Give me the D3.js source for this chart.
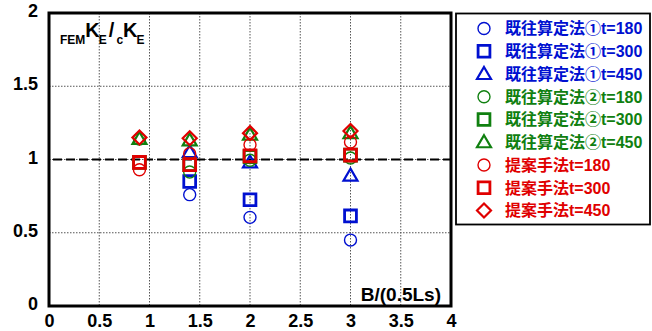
<!DOCTYPE html>
<html>
<head>
<meta charset="utf-8">
<script src="https://cdn.jsdelivr.net/npm/d3@7"></script>
<style>
  body { margin: 0; background: #fff; }
  svg { display: block; font-family: "Liberation Sans", Arial, sans-serif; font-weight: bold; }
</style>
</head>
<body>
<div id="chart"></div>
<script>
// データ
const xValues = [0.9, 1.4, 2, 3];
const xTicks = [0, 0.5, 1, 1.5, 2, 2.5, 3, 3.5, 4];
const yTicks = [0, 0.5, 1, 1.5, 2];

const kizon1_180 = [null, 0.76, 0.605, 0.45];
const kizon1_300 = [null, 0.85, 0.725, 0.615];
const kizon1_450 = [null, 1.05, 0.98, 0.89];
const kizon2_180 = [1.14, 0.915, 0.995, 1.01];
const kizon2_300 = [0.98, 0.965, 1.02, 1.03];
const kizon2_450 = [1.14, 1.13, 1.17, 1.18];
const teian_180 = [0.93, 1.04, 1.10, 1.12];
const teian_300 = [0.98, 0.965, 1.025, 1.03];
const teian_450 = [1.15, 1.145, 1.18, 1.195];

const blue = '#0010d0', green = '#108010', red = '#e00000';

const series = [
  { name: '既往算定法①t=180', values: kizon1_180, color: blue, shape: 'circle' },
  { name: '既往算定法①t=300', values: kizon1_300, color: blue, shape: 'square' },
  { name: '既往算定法①t=450', values: kizon1_450, color: blue, shape: 'triangle' },
  { name: '既往算定法②t=180', values: kizon2_180, color: green, shape: 'circle' },
  { name: '既往算定法②t=300', values: kizon2_300, color: green, shape: 'square' },
  { name: '既往算定法②t=450', values: kizon2_450, color: green, shape: 'triangle' },
  { name: '提案手法t=180', values: teian_180, color: red, shape: 'circle' },
  { name: '提案手法t=300', values: teian_300, color: red, shape: 'square' },
  { name: '提案手法t=450', values: teian_450, color: red, shape: 'diamond' }
];

const width = 652, height = 331;
const plot = { left: 49, right: 451, top: 13, bottom: 306 };

const svg = d3.select('#chart').append('svg')
  .attr('width', width)
  .attr('height', height);

const x = d3.scaleLinear().domain([0, 4]).range([plot.left, plot.right]);
const y = d3.scaleLinear().domain([0, 2]).range([plot.bottom, plot.top]);

// グリッド
const grid = svg.append('g');
grid.selectAll('.vgrid')
  .data(xTicks.slice(1, -1))
  .enter().append('line')
  .attr('x1', d => x(d)).attr('x2', d => x(d))
  .attr('y1', plot.top).attr('y2', plot.bottom)
  .attr('stroke', '#555').attr('stroke-width', 1)
  .attr('stroke-dasharray', '1.5,1.5');
grid.selectAll('.hgrid')
  .data(yTicks.slice(1, -1))
  .enter().append('line')
  .attr('x1', plot.left).attr('x2', plot.right)
  .attr('y1', d => y(d)).attr('y2', d => y(d))
  .attr('stroke', '#555').attr('stroke-width', 1)
  .attr('stroke-dasharray', '1.5,1.5');

// 基準線 (=1)
svg.append('line')
  .attr('x1', x(0.04)).attr('x2', plot.right)
  .attr('y1', y(1)).attr('y2', y(1))
  .attr('stroke', '#000').attr('stroke-width', 2.2)
  .attr('stroke-dasharray', '9,4');

// 軸
const xAxis = d3.axisBottom(x).tickValues(xTicks).tickSize(0).tickPadding(8)
  .tickFormat(d3.format('~g'));
const yAxis = d3.axisLeft(y).tickValues(yTicks).tickSize(0).tickPadding(11)
  .tickFormat(d3.format('~g'));

const gx = svg.append('g')
  .attr('transform', `translate(0,${plot.bottom})`)
  .call(xAxis);
const gy = svg.append('g')
  .attr('transform', `translate(${plot.left},0)`)
  .call(yAxis);
[gx, gy].forEach(g => {
  g.select('.domain').remove();
  g.selectAll('text')
    .attr('font-family', '"Liberation Sans", Arial, sans-serif')
    .attr('font-weight', 'bold')
    .attr('font-size', 18)
    .attr('fill', '#000');
});
gy.selectAll('text').attr('dy', '0.2em');

// 記号
function symbolPath(shape) {
  if (shape === 'circle') return d3.symbol(d3.symbolCircle, 113)();
  if (shape === 'square') return d3.symbol(d3.symbolSquare, 140)();
  if (shape === 'triangle') return 'M0,-7L7,5L-7,5Z';
  return 'M0,-7L7,0L0,7L-7,0Z';
}
function strokeW(shape) {
  if (shape === 'circle') return 1.4;
  if (shape === 'square') return 2.8;
  return 2.2;
}

const points = svg.append('g');
series.forEach(s => {
  const pts = xValues.map((xv, i) => ({ x: xv, y: s.values[i] })).filter(d => d.y !== null);
  points.selectAll(null)
    .data(pts)
    .enter().append('path')
    .attr('transform', d => `translate(${x(d.x)},${y(d.y)})`)
    .attr('d', symbolPath(s.shape))
    .attr('fill', 'none')
    .attr('stroke', s.color)
    .attr('stroke-width', strokeW(s.shape));
});

// 枠
svg.append('rect')
  .attr('x', plot.left).attr('y', plot.top)
  .attr('width', plot.right - plot.left)
  .attr('height', plot.bottom - plot.top)
  .attr('fill', 'none')
  .attr('stroke', '#000')
  .attr('stroke-width', 3);

// 縦軸ラベル FEM K E / c K E
const yl = svg.append('text')
  .attr('x', 60).attr('y', 37)
  .attr('fill', '#000');
yl.append('tspan').attr('font-size', 12).attr('dy', 7).text('FEM');
yl.append('tspan').attr('font-size', 20).attr('dy', -7).text('K');
yl.append('tspan').attr('font-size', 12).attr('dy', 7).attr('dx', -1).text('E');
yl.append('tspan').attr('font-size', 20).attr('dy', -7).attr('dx', 2).text('/');
yl.append('tspan').attr('font-size', 12).attr('dy', 7).attr('dx', 2).text('c');
yl.append('tspan').attr('font-size', 20).attr('dy', -7).text('K');
yl.append('tspan').attr('font-size', 12).attr('dy', 7).attr('dx', -1).text('E');

// 横軸ラベル
svg.append('text')
  .attr('x', 441).attr('y', 301)
  .attr('text-anchor', 'end')
  .attr('font-size', 19)
  .attr('fill', '#000')
  .text('B/(0.5Ls)');

// 凡例
const legend = svg.append('g');
legend.append('rect')
  .attr('x', 456).attr('y', 13.5)
  .attr('width', 194).attr('height', 211)
  .attr('fill', '#fff')
  .attr('stroke', '#000')
  .attr('stroke-width', 1.8);

const rowY = d3.scalePoint().domain(series.map(s => s.name)).range([28.5, 210.5]);
const items = legend.selectAll('.item')
  .data(series)
  .enter().append('g')
  .attr('transform', d => `translate(0,${rowY(d.name)})`);
items.append('path')
  .attr('transform', 'translate(484,0)')
  .attr('d', d => symbolPath(d.shape))
  .attr('fill', 'none')
  .attr('stroke', d => d.color)
  .attr('stroke-width', d => strokeW(d.shape));
items.append('text')
  .attr('x', 505).attr('dy', '0.36em')
  .attr('font-family', '"Liberation Sans", "Noto Sans CJK JP", sans-serif')
  .attr('font-size', 16)
  .attr('font-weight', 'bold')
  .attr('fill', d => d.color)
  .text(d => d.name);
</script>
</body>
</html>
